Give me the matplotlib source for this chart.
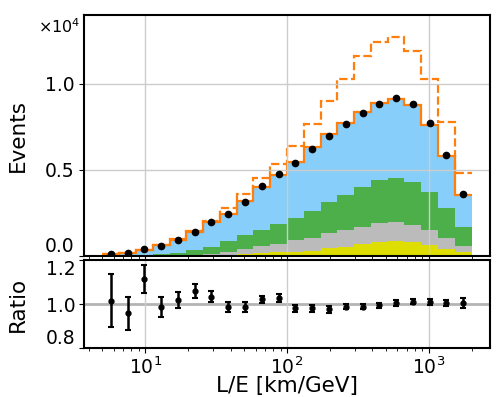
import numpy as np
import matplotlib
matplotlib.use('Agg')
import matplotlib.pyplot as plt

# binning in L/E (log-uniform, 22 bins)
le_lo, le_hi, nbins = 5.0, 2000.0, 22
edges = np.logspace(np.log10(le_lo), np.log10(le_hi), nbins + 1)
centers = np.sqrt(edges[:-1] * edges[1:])

# stacked MC components (events per bin), bottom to top
mc_yellow = [0, 0, 3, 8, 12, 23, 40, 58, 87, 145, 203, 260,
             290, 435, 520, 700, 830, 870, 795, 640, 405, 250]
mc_gray = [0, 0, 9, 21, 46, 53, 76, 157, 291, 407, 494, 640,
           773, 884, 990, 1013, 1075, 1087, 1000, 841, 629, 348]
mc_green = [0, 17, 34, 58, 116, 243, 407, 656, 813, 958, 1162, 1290,
            1534, 1789, 2051, 2295, 2510, 2574, 2504, 2219, 1772, 1098]
mc_blue = [87, 169, 303, 523, 755, 1093, 1440, 1586, 1975, 2481, 2846, 3253,
           3735, 3979, 4182, 4340, 4455, 4589, 4472, 3910, 3003, 1848]

# prediction without oscillation (dashed)
no_osc = [93, 197, 366, 627, 958, 1452, 2033, 2759, 3602, 4512, 5327, 6408,
          7652, 9004, 10282, 11619, 12449, 12739, 11926, 10264, 7802, 4804]

# data
data = [100, 175, 390, 590, 920, 1420, 1950, 2440, 3165, 4066, 4780, 5385,
        6216, 6970, 7685, 8290, 8830, 9178, 8847, 7726, 5850, 3584]

# data / MC
ratio = [1.015, 0.958, 1.114, 0.988, 1.018, 1.059, 1.032, 0.985, 0.985, 1.021, 1.029,
         0.980, 0.980, 0.976, 0.988, 0.988, 0.995, 1.005, 1.011, 1.010, 1.005, 1.005]
ratio_err = [0.12, 0.074, 0.063, 0.045, 0.038, 0.030, 0.025, 0.022, 0.023, 0.017, 0.018,
             0.017, 0.015, 0.015, 0.012, 0.012, 0.011, 0.014, 0.013, 0.014, 0.015, 0.021]

layers = [mc_yellow, mc_gray, mc_green, mc_blue]
colors = ['#dede00', '#bbbbbb', '#4daf4a', '#87cefa']

fig = plt.figure(figsize=(5, 3.97), dpi=100)
ax1 = fig.add_axes([0.168, 0.3552, 0.812, 0.607])
ax2 = fig.add_axes([0.168, 0.1234, 0.812, 0.2217], sharex=ax1)

#Stack
bottom = np.zeros(nbins)
for vals, c in zip(layers, colors):
    top = bottom + np.array(vals)
    ax1.stairs(top, edges, baseline=bottom, fill=True, color=c, lw=0)
    bottom = top

ax1.stairs(bottom, edges, baseline=None, color='#ff7f0e', lw=1.6)
ax1.stairs(no_osc, edges, baseline=None, color='#ff7f0e', lw=1.6, ls='--')
ax1.plot(centers, data, 'o', color='black', ms=4.5, zorder=5)

ax1.set_xscale('log')
ax1.set_xlim(10**0.569, 10**3.431)
ax1.set_ylim(0, 14000)
ax1.set_yticks([0, 5000, 10000])
ax1.set_yticklabels(['0.0', '0.5', '1.0'])
ax1.get_yticklabels()[0].set_va('bottom')
ax1.text(-0.01, 0.95, r'$\times10^{4}$', transform=ax1.transAxes,
         ha='right', va='center', fontsize=11.5)
ax1.set_ylabel('Events', fontsize=15.5)
ax1.yaxis.set_label_coords(-0.138, 0.5)
ax1.grid(True, color='#cccccc', lw=1)
ax1.tick_params(labelbottom=False, labelsize=13.5)

#Ratio
ax2.axhline(1.0, color='#b4b4b4', lw=2, zorder=1)
ax2.errorbar(centers, ratio, yerr=ratio_err, fmt='o', color='black', ms=3.5,
             elinewidth=1.8, capsize=2.5, capthick=1.5, zorder=5)
ax2.set_ylim(0.8, 1.2)
ax2.set_yticks([0.8, 1.0, 1.2])
ax2.set_yticklabels(['0.8', '1.0', '1.2'])
ax2.get_yticklabels()[0].set_va('bottom')
ax2.get_yticklabels()[-1].set_va('top')
ax2.grid(True, axis='x', color='#cccccc', lw=1)
ax2.set_ylabel('Ratio', fontsize=15.5)
ax2.yaxis.set_label_coords(-0.138, 0.5)
ax2.set_xlabel('L/E [km/GeV]', fontsize=15.5, labelpad=-1)
ax2.tick_params(labelsize=13.5, pad=2.5)

for ax in (ax1, ax2):
    for s in ax.spines.values():
        s.set_linewidth(1.5)

fig.savefig('out.png', dpi=100)
